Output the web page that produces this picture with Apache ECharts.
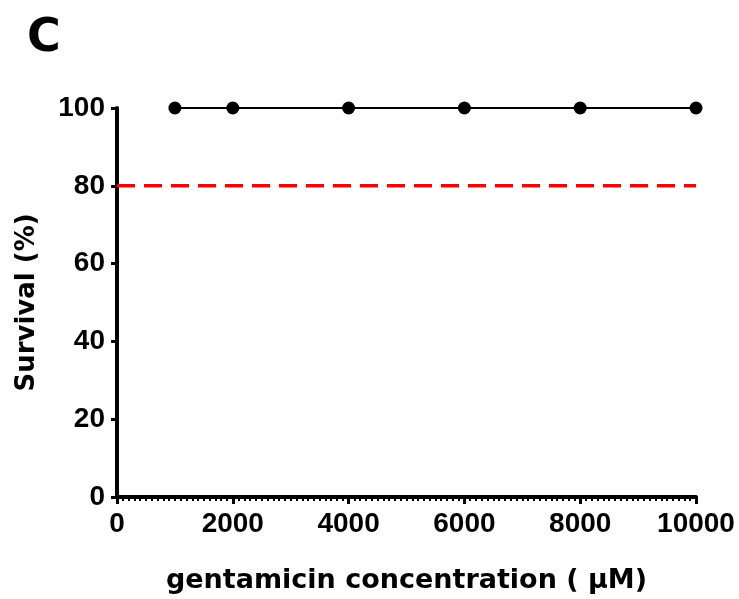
<!DOCTYPE html>
<html>
<head>
<meta charset="utf-8">
<script src="https://cdn.jsdelivr.net/npm/echarts@6/dist/echarts.min.js"></script>
<style>
  html, body { margin: 0; padding: 0; background: #fff; }
  #survivalChart { width: 739px; height: 599px; }
</style>
</head>
<body>
<div id="survivalChart"></div>
<script>
// gentamicin concentration (uM) and survival (%)
var concentrations = [1000, 2000, 4000, 6000, 8000, 10000];
var survival = [100, 100, 100, 100, 100, 100];
// 80 % cut-off line
var cutoffX = [0, 10000];
var cutoffY = [80, 80];
var xTicks = [0, 2000, 4000, 6000, 8000, 10000];
var yTicks = [0, 20, 40, 60, 80, 100];

function pairs(xs, ys) {
  return xs.map(function (x, i) { return [x, ys[i]]; });
}

var tickFont = {
  fontFamily: 'Liberation Sans',
  fontWeight: 'bold',
  fontSize: 28,
  color: '#000'
};

var chart = echarts.init(document.getElementById('survivalChart'));
chart.setOption({
  animation: false,
  title: {
    text: 'C',
    left: 22,
    top: 11,
    textStyle: { fontFamily: 'DejaVu Sans', fontWeight: 'bold', fontSize: 46, color: '#000' }
  },
  grid: { left: 117, right: 43, top: 108, bottom: 102, containLabel: false, outerBoundsMode: 'none' },
  xAxis: {
    type: 'value',
    min: xTicks[0],
    max: xTicks[xTicks.length - 1],
    interval: 2000,
    name: 'gentamicin concentration ( \u00b5M)',
    nameLocation: 'middle',
    nameGap: 70,
    nameTextStyle: { fontFamily: 'DejaVu Sans', fontWeight: 'bold', fontSize: 27, color: '#000' },
    axisLine: { show: true, lineStyle: { color: '#000', width: 4 } },
    axisTick: { show: true, length: 7, lineStyle: { color: '#000', width: 3 } },
    minorTick: { show: true, splitNumber: 20, length: 4, lineStyle: { color: '#000', width: 2 } },
    axisLabel: Object.assign({ margin: 13, formatter: function (v) { return String(v); } }, tickFont),
    splitLine: { show: false }
  },
  yAxis: {
    type: 'value',
    min: yTicks[0],
    max: yTicks[yTicks.length - 1],
    interval: 20,
    name: 'Survival (%)',
    nameLocation: 'middle',
    nameGap: 77,
    nameTextStyle: { fontFamily: 'DejaVu Sans', fontWeight: 'bold', fontSize: 26, color: '#000' },
    axisLine: { show: true, lineStyle: { color: '#000', width: 4 } },
    axisTick: { show: true, length: 6, lineStyle: { color: '#000', width: 3 } },
    axisLabel: Object.assign({ margin: 12, formatter: function (v) { return String(v); } }, tickFont),
    splitLine: { show: false }
  },
  series: [
    {
      name: 'cutoff',
      type: 'line',
      data: pairs(cutoffX, cutoffY),
      symbol: 'none',
      lineStyle: { color: '#ff0000', width: 3.5, type: [18, 9] },
      z: 2
    },
    {
      name: 'survival',
      type: 'line',
      data: pairs(concentrations, survival),
      symbol: 'circle',
      symbolSize: 13,
      itemStyle: { color: '#000' },
      lineStyle: { color: '#000', width: 2 },
      z: 3
    }
  ]
});
</script>
</body>
</html>
